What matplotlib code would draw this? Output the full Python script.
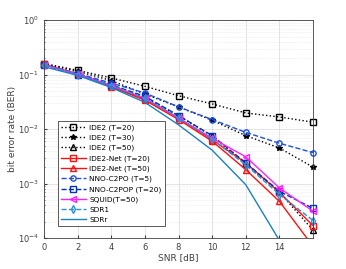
import matplotlib
matplotlib.use('Agg')
import matplotlib.pyplot as plt
import numpy as np

snr = [0, 2, 4, 6, 8, 10, 12, 14, 16]

ide2_t20 = [0.160, 0.120, 0.087, 0.061, 0.041, 0.029, 0.0198, 0.0167, 0.0134]
ide2_t30 = [0.158, 0.115, 0.078, 0.044, 0.0255, 0.0145, 0.0076, 0.0045, 0.0020]
ide2_t50 = [0.155, 0.105, 0.065, 0.038, 0.0177, 0.0074, 0.0023, 0.00069, 0.000139]
net_t20 = [0.155, 0.103, 0.062, 0.036, 0.0160, 0.0064, 0.0024, 0.00069, 0.000168]
net_t50 = [0.153, 0.101, 0.060, 0.034, 0.0150, 0.0060, 0.0018, 0.00047, 0.00007]
c2po_t5 = [0.150, 0.105, 0.070, 0.046, 0.0256, 0.0150, 0.0087, 0.0055, 0.0037]
c2pop_t20 = [0.150, 0.100, 0.065, 0.040, 0.0177, 0.0076, 0.0024, 0.00072, 0.00035]
squid_t50 = [0.152, 0.102, 0.063, 0.037, 0.0160, 0.0068, 0.0031, 0.00083, 0.00031]
sdr1 = [0.150, 0.100, 0.063, 0.037, 0.0160, 0.0065, 0.0022, 0.00063, 0.00021]
sdrr = [0.140, 0.097, 0.058, 0.031, 0.0120, 0.0041, 0.00095, 0.00009, 0.000005]

labels = ['IDE2 (T=20)', 'IDE2 (T=30)', 'IDE2 (T=50)', 'IDE2-Net (T=20)',
          'IDE2-Net (T=50)', 'NNO-C2PO (T=5)', 'NNO-C2POP (T=20)',
          'SQUID(T=50)', 'SDR1', 'SDRr']

plt.rcParams['font.family'] = 'DejaVu Sans'
fig = plt.figure(figsize=(3.46, 2.69), dpi=100)
ax = fig.add_axes([0.127, 0.115, 0.778, 0.81])

ms = 3.8
lw = 1.0
# markers at the right edge are drawn whole, as in the original
ax.semilogy(snr, ide2_t20, ':', color='k', marker='s', mfc='none', ms=ms, lw=lw, label=labels[0], clip_on=False)
ax.semilogy(snr, ide2_t30, ':', color='k', marker='*', ms=ms, lw=lw, label=labels[1], clip_on=False)
ax.semilogy(snr, ide2_t50, ':', color='k', marker='^', mfc='none', ms=ms, lw=lw, label=labels[2], clip_on=False)
ax.semilogy(snr, net_t20, '-', color='#ff1010', marker='s', mfc='none', ms=ms, lw=lw, label=labels[3], clip_on=False)
ax.semilogy(snr, net_t50, '-', color='#ff1010', marker='^', mfc='none', ms=ms, lw=lw, label=labels[4])
ax.semilogy(snr, c2po_t5, '--', color='#2050e0', marker='o', mfc='none', ms=ms, lw=lw, label=labels[5], clip_on=False)
ax.semilogy(snr, c2pop_t20, '--', color='#0030c0', marker='s', mfc='none', ms=ms, lw=lw, label=labels[6], clip_on=False)
ax.semilogy(snr, squid_t50, '-', color='#ff20ff', marker='<', mfc='none', ms=ms, lw=lw, label=labels[7], clip_on=False)
ax.semilogy(snr, sdr1, '--', color='#3090d8', marker='d', mfc='none', ms=ms, lw=lw, label=labels[8], clip_on=False)
ax.semilogy(snr, sdrr, '-', color='#1a80c8', lw=lw, label=labels[9])

ax.set_xlim(0, 16)
ax.set_ylim(1e-4, 1)
ax.set_xticks([0, 2, 4, 6, 8, 10, 12, 14])
ax.grid(True, which='major', color='#d8d8d8', lw=0.5)
ax.grid(True, which='minor', color='#ececec', lw=0.4, ls='--')
ax.tick_params(which='both', direction='in', labelsize=6, length=2, colors='#404040')
ax.tick_params(which='minor', length=1)
for s in ax.spines.values():
    s.set_color('#404040')
    s.set_linewidth(0.6)
ax.set_xlabel('SNR [dB]', fontsize=6.5, color='#404040', labelpad=1)
ax.set_ylabel('bit error rate (BER)', fontsize=6.5, color='#404040', labelpad=1)

leg = ax.legend(loc='lower left', bbox_to_anchor=(0.04, 0.04), fontsize=5.3,
                fancybox=False, framealpha=1, edgecolor='#404040',
                handlelength=3.3, labelspacing=0.5, borderpad=0.4,
                handletextpad=0.5)
leg.get_frame().set_linewidth(0.6)

fig.savefig('out.png', dpi=100)
